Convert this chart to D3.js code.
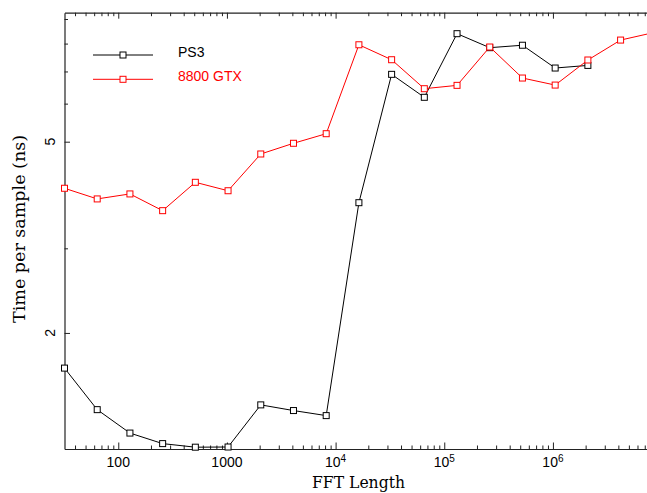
<!DOCTYPE html>
<html>
<head>
<meta charset="utf-8">
<script src="https://cdn.jsdelivr.net/npm/d3@7"></script>
<style>
  html, body { margin: 0; padding: 0; background: #fff; }
  svg { display: block; }
</style>
</head>
<body>
<svg id="chart" width="647" height="493"></svg>
<script>
// ---- data ----
const fftLengths = [32, 64, 128, 256, 512, 1024, 2048, 4096, 8192, 16384, 32768, 65536,
  131072, 262144, 524288, 1048576, 2097152, 4194304, 8388608];
const ps3 = [1.69, 1.385, 1.238, 1.177, 1.157, 1.158, 1.417, 1.379, 1.346, 3.733, 6.904,
  6.185, 8.389, 7.845, 7.937, 7.116, 7.206];
const gtx8800 = [4.000, 3.801, 3.893, 3.593, 4.116, 3.953, 4.714, 4.962, 5.195, 7.955, 7.405,
  6.445, 6.549, 7.870, 6.783, 6.558, 7.395, 8.136, 8.43];
const seriesNames = ["PS3", "8800 GTX"];
const xMajorTicks = [100, 1000, 1e4, 1e5, 1e6];
const xMajorLabels = [["100", ""], ["1000", ""], ["10", "4"], ["10", "5"], ["10", "6"]];
const yTicks = [2, 3, 4, 5, 6, 7, 8, 9];
const yLabelTicks = [2, 5];

(function () {
// ---- layout ----
const svg = d3.select("#chart");
const mLeft = 64.5, mTop = 12.7, mBottom = 449;
const x = d3.scaleLog().domain([32, 8388608]).range([mLeft, 653.3]);
const y = d3.scaleLog().domain([1.147, 9.276]).range([mBottom, mTop]);
const mRight = x.range()[1];

// minor x ticks
const xMinor = [];
for (let e = 1; e <= 7; e++) for (let m = 2; m <= 9; m++) {
  const v = m * Math.pow(10, e);
  if (v >= 32 && v <= 8388608) xMinor.push(v);
}

const axisColor = "#222";
function styleAxis(g) {
  g.selectAll("path.domain").attr("stroke", axisColor).attr("stroke-width", 1.2);
  g.selectAll(".tick line").attr("stroke", axisColor).attr("stroke-width", 1);
}

// bottom axis
const gb = svg.append("g").attr("transform", `translate(0,${mBottom})`);
gb.call(d3.axisBottom(x).tickValues(xMinor).tickSize(-3.5).tickSizeOuter(0).tickFormat(""));
gb.append("g").call(d3.axisBottom(x).tickValues(xMajorTicks).tickSize(-6.5).tickSizeOuter(0).tickFormat(""))
  .select("path.domain").remove();
styleAxis(gb);

// top axis
const gt = svg.append("g").attr("transform", `translate(0,${mTop})`);
gt.call(d3.axisTop(x).tickValues(xMinor).tickSize(-3.5).tickSizeOuter(0).tickFormat(""));
gt.append("g").call(d3.axisTop(x).tickValues(xMajorTicks).tickSize(-6).tickSizeOuter(0).tickFormat(""))
  .select("path.domain").remove();
styleAxis(gt);

// left axis
const gl = svg.append("g").attr("transform", `translate(${mLeft},0)`);
gl.call(d3.axisLeft(y).tickValues(yTicks.filter(v => !yLabelTicks.includes(v))).tickSize(-3.5).tickSizeOuter(0).tickFormat(""));
gl.append("g").call(d3.axisLeft(y).tickValues(yLabelTicks).tickSize(-5.5).tickSizeOuter(0).tickFormat(""))
  .select("path.domain").remove();
styleAxis(gl);

// right axis (mostly off-canvas)
const gr = svg.append("g").attr("transform", `translate(${mRight},0)`);
gr.call(d3.axisRight(y).tickValues(yTicks).tickSize(-3.5).tickSizeOuter(0).tickFormat(""));
styleAxis(gr);

// x tick labels
const labelFont = "'Liberation Sans', Arial, Helvetica, sans-serif";
xMajorTicks.forEach((v, i) => {
  const t = svg.append("text")
    .attr("x", x(v)).attr("y", 467)
    .attr("text-anchor", "middle")
    .attr("font-family", labelFont).attr("font-size", 14).attr("fill", "#000");
  t.append("tspan").text(xMajorLabels[i][0]);
  if (xMajorLabels[i][1]) t.append("tspan").attr("dy", -5.5).attr("font-size", 10).text(xMajorLabels[i][1]);
});

// y tick labels (rotated)
yLabelTicks.forEach(v => {
  svg.append("text")
    .attr("transform", `translate(55,${y(v)}) rotate(-90)`)
    .attr("text-anchor", "middle")
    .attr("font-family", labelFont).attr("font-size", 14).attr("fill", "#000")
    .text(String(v));
});

// axis titles
const titleFont = "'DejaVu Serif', serif";
svg.append("text")
  .attr("x", 358.5).attr("y", 488)
  .attr("text-anchor", "middle")
  .attr("font-family", titleFont).attr("font-size", 16.5).attr("fill", "#000")
  .attr("textLength", 93).attr("lengthAdjust", "spacingAndGlyphs")
  .text("FFT Length");
svg.append("text")
  .attr("transform", "translate(25,229) rotate(-90)")
  .attr("text-anchor", "middle")
  .attr("font-family", titleFont).attr("font-size", 16.5).attr("fill", "#000")
  .attr("textLength", 188).attr("lengthAdjust", "spacingAndGlyphs")
  .text("Time per sample (ns)");

// series
const series = [
  { name: seriesNames[0], values: ps3, color: "#000000" },
  { name: seriesNames[1], values: gtx8800, color: "#ff0000" }
];
const line = d3.line().x(d => x(d[0])).y(d => y(d[1]));
const plot = svg.append("g");
const ms = 6;
series.forEach(s => {
  const pts = s.values.map((v, i) => [fftLengths[i], v]);
  plot.append("path").datum(pts)
    .attr("d", line).attr("fill", "none").attr("stroke", s.color).attr("stroke-width", 1);
  plot.selectAll(null).data(pts).enter().append("rect")
    .attr("x", d => x(d[0]) - ms / 2).attr("y", d => y(d[1]) - ms / 2)
    .attr("width", ms).attr("height", ms)
    .attr("fill", "#fff").attr("stroke", s.color).attr("stroke-width", 1);
});

// legend
const legendY = [55, 79.3];
const legendTextY = [56.5, 80.5];
series.forEach((s, i) => {
  const g = svg.append("g");
  g.append("line").attr("x1", 93).attr("x2", 153).attr("y1", legendY[i]).attr("y2", legendY[i])
    .attr("stroke", s.color).attr("stroke-width", 1);
  g.append("rect").attr("x", 123 - ms / 2).attr("y", legendY[i] - ms / 2)
    .attr("width", ms).attr("height", ms).attr("fill", "#fff").attr("stroke", s.color);
  g.append("text").attr("x", 178).attr("y", legendTextY[i])
    .attr("font-family", labelFont).attr("font-size", 14).attr("fill", s.color)
    .text(s.name);
});
})();
</script>
</body>
</html>
